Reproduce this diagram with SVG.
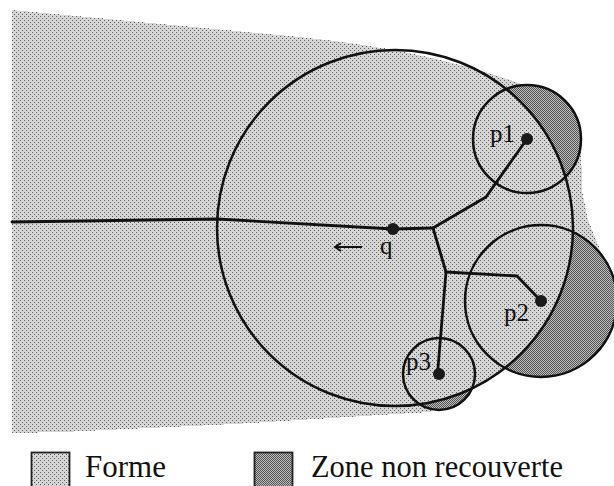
<svg xmlns="http://www.w3.org/2000/svg" width="614" height="486" viewBox="0 0 614 486">
<style>
.circ{fill:none;stroke:#111;stroke-width:2.5}
.edge{fill:none;stroke:#111;stroke-width:2.8;stroke-linejoin:round;stroke-linecap:round}
.dot{fill:#1a1a1a}
.lbl{font-family:"Liberation Serif","Times New Roman",serif;font-size:25px;fill:#111}
.leg{font-family:"Liberation Serif","Times New Roman",serif;font-size:31px;fill:#111}
.box{stroke:#222;stroke-width:1.8}
</style>
<defs>
<pattern id="pForme" patternUnits="userSpaceOnUse" x="0" y="0" width="4" height="4">
<rect width="4" height="4" fill="#d6d6d6"/>
<rect x="0" y="0" width="1" height="1" fill="#5e5e5e"/>
<rect x="2" y="2" width="1" height="1" fill="#5e5e5e"/>
</pattern>
<pattern id="pZone" patternUnits="userSpaceOnUse" x="0" y="0" width="2" height="2">
<rect width="2" height="2" fill="#bcbcbc"/>
<rect x="0" y="0" width="1" height="1" fill="#545454"/>
<rect x="1" y="1" width="1" height="1" fill="#545454"/>
</pattern>
<mask id="outBig">
<rect width="614" height="486" fill="#fff"/>
<circle cx="395" cy="228" r="178" fill="#000"/>
</mask>
</defs>

<g id="forme">
<path d="M12,10 L300,37 Q430,50 527,86 L581,140 L582,190 L588,220 L600,250 L614,280 L614,310 L560,360 L505,368 A178,178 0 0 1 471.8,388.5 L455,400 L430,412 L380,415 L235,424 L63,432 L12,433 Z" fill="url(#pForme)" shape-rendering="crispEdges"/>
</g>

<g id="zones" mask="url(#outBig)" fill="url(#pZone)">
<circle cx="527" cy="139" r="54"/>
<circle cx="541" cy="301" r="76"/>
<circle cx="439" cy="374" r="36"/>
</g>

<g id="big-circle">
<circle class="circ" cx="395" cy="228" r="178"/>
</g>

<g id="connectors">
<path class="edge" d="M12,222 L217,219 L393,229 L433,228"/>
<path class="edge" d="M433,228 L486,197 L527,139"/>
<path class="edge" d="M433,228 L446,272"/>
<path class="edge" d="M446,272 L517,276 L541,301"/>
<path class="edge" d="M446,272 L438,368 L439,374"/>
<path d="M362,247 H335 M341,243 L335,247 L341,251" fill="none" stroke="#111" stroke-width="2"/>
</g>

<g id="p1">
<circle class="circ" cx="527" cy="139" r="54"/>
<circle class="dot" cx="527" cy="139" r="6"/>
<text class="lbl" x="490" y="142">p1</text>
</g>

<g id="p2">
<circle class="circ" cx="541" cy="301" r="76"/>
<circle class="dot" cx="541" cy="301" r="6"/>
<text class="lbl" x="504" y="321">p2</text>
</g>

<g id="p3">
<circle class="circ" cx="439" cy="374" r="36"/>
<circle class="dot" cx="439" cy="374" r="6"/>
<text class="lbl" x="406" y="370">p3</text>
</g>

<g id="q">
<circle class="dot" cx="393" cy="229" r="6"/>
<text class="lbl" x="380" y="254">q</text>
</g>

<g id="legend">
<rect class="box" x="31.5" y="452.5" width="38" height="40" fill="url(#pForme)"/>
<text class="leg" x="85" y="477">Forme</text>
<rect class="box" x="254.5" y="452.5" width="38" height="40" fill="url(#pZone)"/>
<text class="leg" x="311" y="477" textLength="252" lengthAdjust="spacingAndGlyphs">Zone non recouverte</text>
</g>
</svg>
